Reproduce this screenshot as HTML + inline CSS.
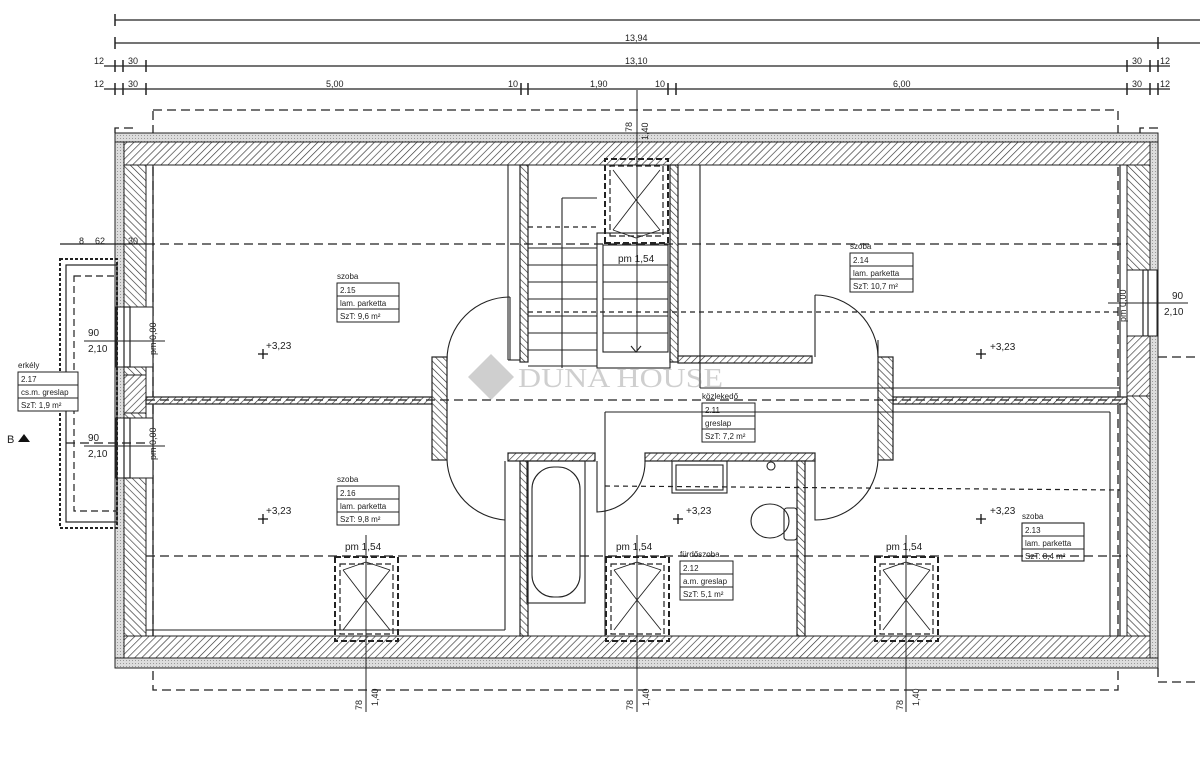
<!DOCTYPE html>
<html><head><meta charset="utf-8"><style>
html,body{margin:0;padding:0;background:#fff;}
svg{display:block;}
text{font-family:"Liberation Sans",sans-serif;fill:#222;}
</style></head><body>
<svg width="1200" height="757" viewBox="0 0 1200 757" xmlns="http://www.w3.org/2000/svg">
<defs>
<pattern id="h" patternUnits="userSpaceOnUse" width="5" height="5" patternTransform="rotate(45)">
<rect width="5" height="5" fill="#fff"/><line x1="0" y1="0" x2="0" y2="5" stroke="#333" stroke-width="1.3"/></pattern>
<pattern id="h2" patternUnits="userSpaceOnUse" width="5" height="5" patternTransform="rotate(-45)">
<rect width="5" height="5" fill="#fff"/><line x1="0" y1="0" x2="0" y2="5" stroke="#333" stroke-width="1.3"/></pattern>
<pattern id="dots" patternUnits="userSpaceOnUse" width="3" height="3">
<rect width="3" height="3" fill="#ddd"/><rect width="1" height="1" fill="#999"/></pattern>
</defs>
<g stroke="#222" stroke-width="1.3" fill="none">
<line x1="115" y1="20" x2="1200" y2="20"/>
<line x1="115" y1="43" x2="1200" y2="43"/>
<line x1="104" y1="66" x2="1170" y2="66"/>
<line x1="104" y1="89" x2="1170" y2="89"/>
<g stroke-width="1.5">
<line x1="115" y1="14" x2="115" y2="26"/><line x1="115" y1="37" x2="115" y2="49"/><line x1="1158" y1="37" x2="1158" y2="49"/>
<line x1="115" y1="60" x2="115" y2="72"/><line x1="123" y1="60" x2="123" y2="72"/><line x1="146" y1="60" x2="146" y2="72"/>
<line x1="1127" y1="60" x2="1127" y2="72"/><line x1="1150" y1="60" x2="1150" y2="72"/><line x1="1158" y1="60" x2="1158" y2="72"/>
<line x1="115" y1="83" x2="115" y2="95"/><line x1="123" y1="83" x2="123" y2="95"/><line x1="146" y1="83" x2="146" y2="95"/>
<line x1="521" y1="83" x2="521" y2="95"/><line x1="528" y1="83" x2="528" y2="95"/>
<line x1="668" y1="83" x2="668" y2="95"/><line x1="676" y1="83" x2="676" y2="95"/>
<line x1="1127" y1="83" x2="1127" y2="95"/><line x1="1150" y1="83" x2="1150" y2="95"/><line x1="1158" y1="83" x2="1158" y2="95"/>
</g>
<rect x="153" y="110" width="965" height="580" stroke-dasharray="9,5"/>
<path d="M115 133 V128 H133 M1140 133 V128 H1158 M1158 668 V682 H1200" stroke-dasharray="9,5"/>
</g>
<rect x="115" y="133" width="1043" height="9" fill="url(#dots)" stroke="#222"/>
<rect x="115" y="658" width="1043" height="10" fill="url(#dots)" stroke="#222"/>
<rect x="115" y="142" width="9" height="516" fill="url(#dots)" stroke="#222"/>
<rect x="1150" y="142" width="8" height="516" fill="url(#dots)" stroke="#222"/>
<rect x="124" y="142" width="1026" height="23" fill="url(#h)" stroke="#222"/>
<rect x="124" y="636" width="1026" height="22" fill="url(#h)" stroke="#222"/>
<rect x="124" y="165" width="22" height="471" fill="url(#h2)" stroke="#222"/>
<rect x="1127" y="165" width="23" height="471" fill="url(#h2)" stroke="#222"/>
<g fill="#fff" stroke="#222">
<rect x="116" y="307" width="37" height="60"/><rect x="116" y="418" width="37" height="60"/>
<rect x="1127" y="270" width="30" height="66"/>
</g>
<g stroke="#222" stroke-width="1.2" fill="none">
<rect x="124" y="307" width="6" height="60"/><rect x="124" y="418" width="6" height="60"/>
<rect x="1143" y="270" width="5" height="66"/>
<line x1="153" y1="165" x2="153" y2="636"/><line x1="1120" y1="165" x2="1120" y2="636"/>
</g>
<rect x="124" y="375" width="22" height="38" fill="url(#h)" stroke="#222"/>
<rect x="1127" y="336" width="23" height="60" fill="url(#h)" stroke="#222"/>
<g stroke="#222" stroke-width="1.2">
<rect x="146" y="397" width="286" height="7" fill="url(#h)"/>
<rect x="893" y="397" width="234" height="7" fill="url(#h)"/>
<rect x="520" y="165" width="8" height="197" fill="url(#h2)"/>
<rect x="670" y="165" width="8" height="197" fill="url(#h2)"/>
<rect x="678" y="356" width="134" height="7" fill="url(#h)"/>
<rect x="432" y="357" width="15" height="103" fill="url(#h2)"/>
<rect x="878" y="357" width="15" height="103" fill="url(#h2)"/>
<rect x="508" y="453" width="87" height="8" fill="url(#h)"/>
<rect x="520" y="461" width="8" height="175" fill="url(#h2)"/>
<rect x="645" y="453" width="170" height="8" fill="url(#h)"/>
<rect x="797" y="461" width="8" height="175" fill="url(#h2)"/>
</g>
<g stroke="#222" stroke-width="1.1" fill="none">
<line x1="508" y1="165" x2="508" y2="360"/><line x1="508" y1="360" x2="520" y2="360"/>
<line x1="700" y1="165" x2="700" y2="388"/>
<line x1="700" y1="388" x2="1120" y2="388"/>
<line x1="605" y1="412" x2="1110" y2="412"/>
<line x1="605" y1="412" x2="605" y2="636"/>
<line x1="1110" y1="412" x2="1110" y2="636"/>
<line x1="146" y1="630" x2="505" y2="630"/><line x1="505" y1="461" x2="505" y2="630"/>
<line x1="815" y1="357" x2="815" y2="295"/><line x1="878" y1="357" x2="878" y2="340"/>
<path d="M815 295 A63 63 0 0 1 878 357"/>
<line x1="510" y1="360" x2="510" y2="297"/>
<path d="M510 297 A63 63 0 0 0 447 360"/>
<path d="M447 460 A63 63 0 0 0 505 520"/>
<path d="M597 461 V512 A50 50 0 0 0 645 461"/>
<path d="M815 461 V520 A63 63 0 0 0 878 460"/>
<rect x="597" y="233" width="73" height="135"/>
<rect x="603" y="245" width="65" height="107"/>
<line x1="562" y1="198" x2="562" y2="368"/><line x1="562" y1="198" x2="597" y2="198"/>
<path d="M631 346 L636 352 L641 346"/>
</g>
<g stroke="#222" stroke-width="1">
<line x1="528" y1="248" x2="597" y2="248"/><line x1="528" y1="265" x2="597" y2="265"/><line x1="528" y1="282" x2="597" y2="282"/><line x1="528" y1="299" x2="597" y2="299"/><line x1="528" y1="316" x2="597" y2="316"/><line x1="528" y1="333" x2="597" y2="333"/><line x1="528" y1="350" x2="597" y2="350"/><line x1="528" y1="366" x2="597" y2="366"/>
<line x1="603" y1="265" x2="668" y2="265"/><line x1="603" y1="282" x2="668" y2="282"/><line x1="603" y1="299" x2="668" y2="299"/><line x1="603" y1="316" x2="668" y2="316"/><line x1="603" y1="333" x2="668" y2="333"/>
</g>
<g stroke="#222" stroke-width="1.3" stroke-dasharray="9,5" fill="none">
<line x1="146" y1="244" x2="1127" y2="244"/>
<line x1="146" y1="556" x2="1127" y2="556"/>
<line x1="146" y1="400" x2="1127" y2="400"/>
<line x1="66" y1="443" x2="146" y2="443"/>
<line x1="1158" y1="357" x2="1200" y2="357"/>
</g>
<g stroke="#222" stroke-width="1.2" stroke-dasharray="5,4" fill="none">
<line x1="528" y1="312" x2="1120" y2="312"/>
<line x1="528" y1="227" x2="597" y2="227"/>
<line x1="605" y1="486" x2="1120" y2="490"/>
</g>
<g stroke="#222" fill="none">
<g id="w"><rect x="335" y="557" width="63" height="84" stroke-width="2" stroke-dasharray="6,3"/>
<rect x="340" y="564" width="53" height="70" stroke-width="1.2" stroke-dasharray="6,3"/>
<path d="M343 570 L366 600 L343 630 M390 570 L366 600 L390 630 M366 562 L343 570 M366 562 L390 570" stroke-width="0.9"/>
</g>
<use href="#w" x="271"/><use href="#w" x="540"/>
<g transform="translate(0,800) scale(1,-1)"><use href="#w" x="270" y="0"/></g>
<line x1="366" y1="535" x2="366" y2="712"/><line x1="637" y1="535" x2="637" y2="712"/><line x1="906" y1="535" x2="906" y2="712"/>
<line x1="637" y1="90" x2="637" y2="352"/>
</g>
<g stroke="#222" fill="none">
<rect x="60" y="259" width="57" height="269" stroke-width="2" stroke-dasharray="3,2"/>
<rect x="66" y="265" width="51" height="257" stroke-width="1.2"/>
<rect x="74" y="276" width="43" height="235" stroke-width="1.2" stroke-dasharray="7,4"/>
<line x1="60" y1="244" x2="146" y2="244" stroke-width="1.2"/>
<line x1="84" y1="341" x2="165" y2="341"/><line x1="84" y1="446" x2="165" y2="446"/>
<line x1="1108" y1="303" x2="1188" y2="303"/>
</g>
<g stroke="#222" stroke-width="1.1" fill="none">
<rect x="527" y="461" width="58" height="142"/>
<rect x="532" y="467" width="48" height="130" rx="22"/>
<rect x="672" y="461" width="55" height="32"/>
<rect x="676" y="465" width="47" height="25"/>
<circle cx="771" cy="466" r="4"/>
<ellipse cx="770" cy="521" rx="19" ry="17"/>
<rect x="784" y="508" width="13" height="32" rx="3"/>
<rect x="1022" y="523" width="62" height="38"/>
</g>
<g font-size="9">
<text x="94" y="64">12</text><text x="128" y="64">30</text><text x="1132" y="64">30</text><text x="1160" y="64">12</text>
<text x="94" y="87">12</text><text x="128" y="87">30</text><text x="1132" y="87">30</text><text x="1160" y="87">12</text>
<text x="326" y="87">5,00</text><text x="508" y="87">10</text><text x="590" y="87">1,90</text><text x="655" y="87">10</text><text x="893" y="87">6,00</text>
<text x="625" y="41">13,94</text><text x="625" y="64">13,10</text>
<text x="95" y="244">62</text><text x="128" y="244">30</text><text x="79" y="244">8</text>
</g>
<g font-size="10">
<text x="88" y="336">90</text><text x="88" y="352">2,10</text>
<text x="88" y="441">90</text><text x="88" y="457">2,10</text>
<text x="1172" y="299">90</text><text x="1164" y="315">2,10</text>
<text x="618" y="262">pm 1,54</text>
<text x="345" y="550">pm 1,54</text><text x="616" y="550">pm 1,54</text><text x="886" y="550">pm 1,54</text>
<text x="266" y="349">+3,23</text><text x="266" y="514">+3,23</text><text x="686" y="514">+3,23</text><text x="990" y="350">+3,23</text><text x="990" y="514">+3,23</text>
<text x="7" y="443" font-size="11">B</text>
</g>
<path d="M18 442 L24 434 L30 442 Z" fill="#111"/>
<g font-size="9">
<text transform="translate(632,132) rotate(-90)">78</text><text transform="translate(648,140) rotate(-90)">1,40</text>
<text transform="translate(362,710) rotate(-90)">78</text><text transform="translate(378,706) rotate(-90)">1,40</text>
<text transform="translate(633,710) rotate(-90)">78</text><text transform="translate(649,706) rotate(-90)">1,40</text>
<text transform="translate(903,710) rotate(-90)">78</text><text transform="translate(919,706) rotate(-90)">1,40</text>
<text transform="translate(156,355) rotate(-90)">pm 0,00</text><text transform="translate(156,460) rotate(-90)">pm 0,00</text>
<text transform="translate(1126,322) rotate(-90)">pm 0,00</text>
</g>
<g font-size="8" stroke="none">
<g transform="translate(337,283)"><text x="0" y="-4">szoba</text><rect width="62" height="39" fill="none" stroke="#222"/><line x1="0" y1="13" x2="62" y2="13" stroke="#222"/><line x1="0" y1="26" x2="62" y2="26" stroke="#222"/><text x="3" y="10">2.15</text><text x="3" y="23">lam. parketta</text><text x="3" y="36">SzT: 9,6 m²</text></g>
<g transform="translate(337,486)"><text x="0" y="-4">szoba</text><rect width="62" height="39" fill="none" stroke="#222"/><line x1="0" y1="13" x2="62" y2="13" stroke="#222"/><line x1="0" y1="26" x2="62" y2="26" stroke="#222"/><text x="3" y="10">2.16</text><text x="3" y="23">lam. parketta</text><text x="3" y="36">SzT: 9,8 m²</text></g>
<g transform="translate(850,253)"><text x="0" y="-4">szoba</text><rect width="63" height="39" fill="none" stroke="#222"/><line x1="0" y1="13" x2="63" y2="13" stroke="#222"/><line x1="0" y1="26" x2="63" y2="26" stroke="#222"/><text x="3" y="10">2.14</text><text x="3" y="23">lam. parketta</text><text x="3" y="36">SzT: 10,7 m²</text></g>
<g transform="translate(702,403)"><text x="0" y="-4">közlekedő</text><rect width="53" height="39" fill="none" stroke="#222"/><line x1="0" y1="13" x2="53" y2="13" stroke="#222"/><line x1="0" y1="26" x2="53" y2="26" stroke="#222"/><text x="3" y="10">2.11</text><text x="3" y="23">greslap</text><text x="3" y="36">SzT: 7,2 m²</text></g>
<g transform="translate(680,561)"><text x="0" y="-4">fürdőszoba</text><rect width="53" height="39" fill="none" stroke="#222"/><line x1="0" y1="13" x2="53" y2="13" stroke="#222"/><line x1="0" y1="26" x2="53" y2="26" stroke="#222"/><text x="3" y="10">2.12</text><text x="3" y="23">a.m. greslap</text><text x="3" y="36">SzT: 5,1 m²</text></g>
<g transform="translate(1022,523)"><text x="0" y="-4">szoba</text><line x1="0" y1="13" x2="62" y2="13" stroke="#222"/><line x1="0" y1="26" x2="62" y2="26" stroke="#222"/><text x="3" y="10">2.13</text><text x="3" y="23">lam. parketta</text><text x="3" y="36">SzT: 8,4 m²</text></g>
<g transform="translate(18,372)"><text x="0" y="-4">erkély</text><rect width="60" height="39" fill="#fff" stroke="#222"/><line x1="0" y1="13" x2="60" y2="13" stroke="#222"/><line x1="0" y1="26" x2="60" y2="26" stroke="#222"/><text x="3" y="10">2.17</text><text x="3" y="23">cs.m. greslap</text><text x="3" y="36">SzT: 1,9 m²</text></g>
</g>
<g stroke="#111" stroke-width="1.3">
<path d="M258 354 h10 M263 349 v10 M258 519 h10 M263 514 v10 M673 519 h10 M678 514 v10 M976 354 h10 M981 349 v10 M976 519 h10 M981 514 v10"/>
</g>
<g opacity="0.4">
<path d="M468 377 L491 354 L514 377 L491 400 Z" fill="#888"/>
<text x="518" y="387" style="font-family:'Liberation Serif',serif;font-size:27px;fill:#888" textLength="205" lengthAdjust="spacingAndGlyphs">DUNA HOUSE</text>
</g>
</svg>
</body></html>
